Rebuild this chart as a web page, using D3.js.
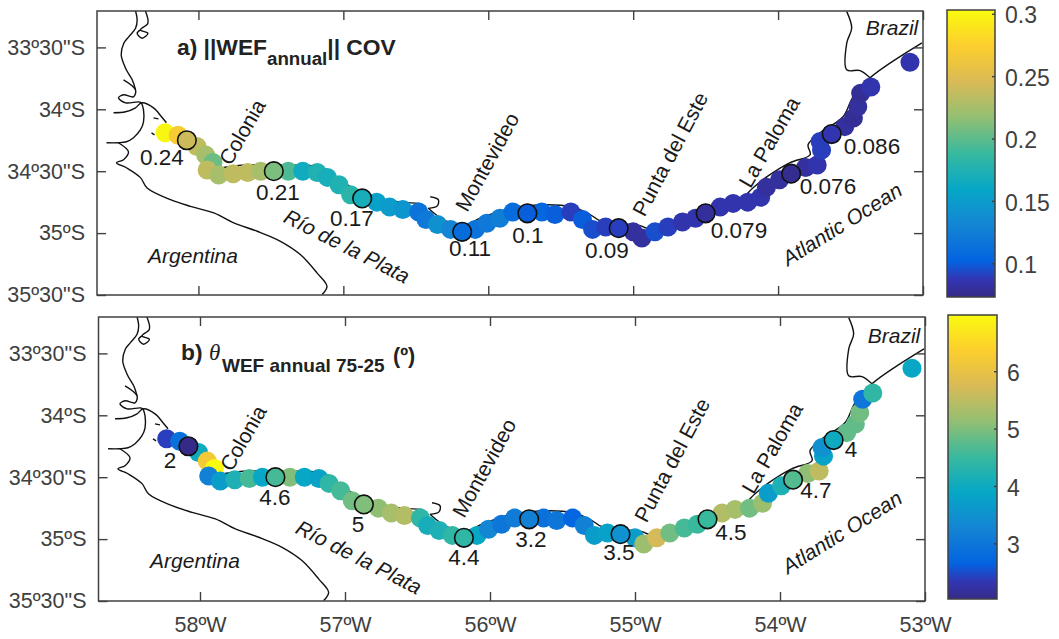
<!DOCTYPE html>
<html>
<head>
<meta charset="utf-8">
<script src="https://cdnjs.cloudflare.com/ajax/libs/d3/7.8.5/d3.min.js"></script>
<style>
  body { margin: 0; background: #fff; }
  svg { display: block; font-family: "Liberation Sans", Arial, sans-serif; }
</style>
</head>
<body>
<svg id="chart" width="1059" height="639"></svg>
<script>
// stations along the coast, same for both panels
var stationLon = [-58.23,-58.14,-58.08,-58.01,-57.95,-57.90,-57.94,-57.86,-57.76,-57.66,-57.57,-57.48,-57.38,-57.28,-57.18,-57.11,
  -57.03,-56.95,-56.87,-56.77,-56.68,-56.59,-56.48,-56.43,-56.35,-56.26,-56.18,-56.09,-56.01,-55.92,-55.83,-55.73,
  -55.63,-55.54,-55.43,-55.35,-55.28,-55.19,-55.10,-55.00,-54.94,-54.85,-54.76,-54.66,-54.57,-54.50,-54.40,-54.31,
  -54.21,-54.12,-54.08,-53.99,-53.91,-53.81,-53.73,-53.70,-53.71,-53.63,-53.54,-53.48,-53.45,-53.43,-53.36,-53.09];
var stationLat = [-34.19,-34.21,-34.25,-34.30,-34.37,-34.43,-34.49,-34.53,-34.52,-34.51,-34.50,-34.50,-34.50,-34.50,-34.51,-34.55,
  -34.61,-34.69,-34.72,-34.75,-34.79,-34.81,-34.83,-34.89,-34.93,-34.97,-34.99,-34.97,-34.92,-34.88,-34.83,-34.84,
  -34.83,-34.85,-34.83,-34.89,-34.97,-34.95,-34.96,-34.99,-35.04,-34.99,-34.95,-34.91,-34.88,-34.84,-34.79,-34.76,
  -34.75,-34.71,-34.63,-34.57,-34.52,-34.47,-34.45,-34.33,-34.26,-34.20,-34.14,-34.07,-33.98,-33.87,-33.82,-33.62];

var covValues = [0.30,0.27,0.24,0.235,0.225,0.205,0.235,0.225,0.235,0.235,0.225,0.21,0.195,0.165,0.175,0.17,
  0.175,0.18,0.17,0.155,0.15,0.145,0.115,0.12,0.14,0.13,0.11,0.115,0.12,0.125,0.11,0.10,
  0.105,0.10,0.09,0.10,0.095,0.09,0.09,0.08,0.08,0.095,0.09,0.085,0.085,0.079,0.085,0.085,
  0.085,0.085,0.08,0.08,0.076,0.08,0.085,0.09,0.09,0.086,0.08,0.078,0.08,0.078,0.085,0.085];
var thetaValues = [2.4,2.9,2.0,4.0,6.2,7.0,3.2,3.7,4.2,4.6,3.9,4.6,5.0,3.9,3.8,4.4,
  4.6,4.9,5.0,5.1,5.3,5.4,4.4,4.1,4.2,4.4,4.4,3.9,3.3,3.0,3.1,3.2,
  2.9,3.0,2.7,3.2,3.7,3.8,3.5,3.7,5.2,5.7,4.9,4.6,4.5,4.5,5.4,5.3,
  4.9,5.2,3.7,4.2,4.7,5.1,5.5,3.8,3.5,4.0,4.8,4.8,4.9,3.0,4.4,3.9];

var markedStations = [2,11,18,26,31,38,45,52,57];
var covMarkLabels = ["0.24","0.21","0.17","0.11","0.1","0.09","0.079","0.076","0.086"];
var thetaMarkLabels = ["2","4.6","5","4.4","3.2","3.5","4.5","4.7","4"];

var lonTicks = [-58,-57,-56,-55,-54,-53];
var lonLabels = ["58ºW","57ºW","56ºW","55ºW","54ºW","53ºW"];
var latTicks = [-33.5,-34,-34.5,-35,-35.5];
var latLabels = ['33º30"S','34ºS','34º30"S','35ºS','35º30"S'];

var covBarTicks = [0.1,0.15,0.2,0.25,0.3];
var covBarLabels = ["0.1","0.15","0.2","0.25","0.3"];
var thetaBarTicks = [3,4,5,6];
var thetaBarLabels = ["3","4","5","6"];

var parula = ["#352a87","#3236b4","#0363e1","#0c74d9","#1485d4","#0d96cd","#06a7c6","#1eb0b4","#38b99e",
  "#64bc88","#92bf73","#b6bd64","#d9ba56","#ebc440","#fcce2e","#fbe41e","#f9fb0e"];

// coast lines as [lon, lat]
var riverWest = [[-58.434,-33.206],[-58.423,-33.278],[-58.434,-33.345],[-58.48,-33.413],[-58.515,-33.466],[-58.533,-33.56],[-58.503,-33.668],[-58.457,-33.762],[-58.434,-33.843]];
var riverEast = [[-58.366,-33.206],[-58.349,-33.305],[-58.40,-33.359],[-58.349,-33.386],[-58.389,-33.426],[-58.423,-33.386],[-58.40,-33.359]];
var deltaTop = [[-58.517,-33.762],[-58.434,-33.843],[-58.448,-33.899],[-58.517,-33.883],[-58.552,-33.907],[-58.503,-33.948],[-58.414,-33.94],[-58.393,-33.948]];
var deltaShore = [[-58.586,-34.028],[-58.503,-34.02],[-58.434,-33.988],[-58.393,-33.948],[-58.31,-33.988],[-58.255,-34.06],[-58.221,-34.109]];
var deltaInner = [[-58.393,-33.948],[-58.379,-34.004],[-58.379,-34.101],[-58.40,-34.165],[-58.448,-34.23],[-58.497,-34.262],[-58.552,-34.27],[-58.634,-34.27]];
var islandA = [[-58.31,-34.069],[-58.276,-34.077]];
var islandB = [[-58.324,-34.19],[-58.303,-34.206]];
var argentinaCoast = [[-58.552,-34.27],[-58.483,-34.343],[-58.517,-34.407],[-58.566,-34.431],[-58.497,-34.472],[-58.40,-34.552],[-58.354,-34.636],[-58.193,-34.73],[-58.055,-34.784],[-57.894,-34.837],[-57.756,-34.918],[-57.595,-34.985],[-57.434,-35.066],[-57.297,-35.173],[-57.182,-35.321],[-57.113,-35.429],[-57.147,-35.496]];
var uruguayWest = [[-57.828,-34.47],[-57.676,-34.45],[-57.559,-34.45],[-57.366,-34.45],[-57.145,-34.47],[-57.021,-34.57],[-56.841,-34.70],[-56.676,-34.74],[-56.469,-34.76]];
var montevideoHook = [[-56.40,-34.706],[-56.345,-34.73],[-56.352,-34.78],[-56.414,-34.80]];
var uruguayEast = [[-56.414,-34.80],[-56.297,-34.90],[-56.159,-34.93],[-56.055,-34.88],[-55.917,-34.82],[-55.745,-34.78],[-55.434,-34.785],[-55.297,-34.85],[-55.228,-34.90],[-54.952,-34.94],[-54.903,-34.96],[-54.538,-34.86],[-54.262,-34.73],[-54.172,-34.633],[-54.076,-34.544],[-53.917,-34.431],[-53.779,-34.367],[-53.793,-34.286],[-53.71,-34.19],[-53.552,-34.06],[-53.483,-33.899],[-53.366,-33.746],[-53.007,-33.464]];
var brazilBorder = [[-53.526,-33.211],[-53.492,-33.343],[-53.526,-33.464],[-53.526,-33.681],[-53.434,-33.687],[-53.366,-33.746]];
var coastLines = [riverWest, riverEast, deltaTop, deltaShore, deltaInner, islandA, islandB, argentinaCoast, uruguayWest, montevideoHook, uruguayEast, brazilBorder];

var svg = d3.select("#chart");
var inkColor = "#404040";

// label placement, pixels
var markLabelPosA = [[162,165],[278,200],[352,226],[470,256],[528,243],[607,258],[739,238],[828,194],[872,154]];
var markLabelPosB = [[170,468],[275,505],[358,532],[464,565],[531,547],[619,560],[731,540],[816,498],[851,457]];
var placesA = [
  {name:"Colonia", x:242, y:132, a:-60}, {name:"Montevideo", x:487, y:162, a:-61}, {name:"Punta del Este", x:670, y:154, a:-62},
  {name:"La Paloma", x:769, y:142, a:-60}, {name:"Atlantic Ocean", x:842, y:224, a:-32, it:1}, {name:"Río de la Plata", x:347, y:246, a:27, it:1},
  {name:"Argentina", x:193, y:255, a:0, it:1}, {name:"Brazil", x:892, y:27, a:0, it:1}];
var placesB = [
  {name:"Colonia", x:243, y:438, a:-60}, {name:"Montevideo", x:484, y:468, a:-61}, {name:"Punta del Este", x:672, y:460, a:-62},
  {name:"La Paloma", x:772, y:448, a:-60}, {name:"Atlantic Ocean", x:842, y:532, a:-32, it:1}, {name:"Río de la Plata", x:359, y:557, a:27, it:1},
  {name:"Argentina", x:195, y:560, a:0, it:1}, {name:"Brazil", x:894, y:335, a:0, it:1}];

var draw_panel = function (opts) {
  var xScale = d3.scaleLinear().domain([-58.70, -53.0]).range([opts.left, opts.right]);
  var yScale = d3.scaleLinear().domain([-35.5, -33.206]).range([opts.bottom, opts.top]);
  var color = d3.scaleSequential(d3.piecewise(d3.interpolateRgb, parula)).domain(opts.barDomain).clamp(true);
  var g = svg.append("g");

  var line = d3.line()
    .x(function (d) { return xScale(d[0]) })
    .y(function (d) { return yScale(d[1]) })
    .curve(d3.curveCatmullRom.alpha(0.5));
  g.selectAll("path.coast")
    .data(coastLines)
    .enter()
    .append("path")
    .attr("class", "coast")
    .attr("d", line)
    .attr("fill", "none")
    .attr("stroke", "#111")
    .attr("stroke-width", 1.4)
    .attr("stroke-linejoin", "round");

  var stations = d3.range(stationLon.length);
  g.selectAll("circle.station")
    .data(stations)
    .enter()
    .append("circle")
    .attr("class", "station")
    .attr("cx", function (i) { return xScale(stationLon[i]) })
    .attr("cy", function (i) { return yScale(stationLat[i]) })
    .attr("r", 9.5)
    .attr("fill", function (i) { return color(opts.values[i]) });

  g.selectAll("circle.marked")
    .data(markedStations)
    .enter()
    .append("circle")
    .attr("class", "marked")
    .attr("cx", function (i) { return xScale(stationLon[i]) })
    .attr("cy", function (i) { return yScale(stationLat[i]) })
    .attr("r", 9.3)
    .attr("fill", function (i) { return color(opts.values[i]) })
    .attr("stroke", "#111")
    .attr("stroke-width", 1.6);

  // value next to each marked station
  g.selectAll("text.mark")
    .data(opts.markLabels)
    .enter()
    .append("text")
    .attr("class", "mark")
    .attr("x", function (d, i) { return opts.markPos[i][0] })
    .attr("y", function (d, i) { return opts.markPos[i][1] })
    .attr("text-anchor", "middle")
    .attr("font-size", 22.5)
    .attr("fill", "#1a1a1a")
    .text(function (d) { return d });

  g.selectAll("text.place")
    .data(opts.places)
    .enter()
    .append("text")
    .attr("class", "place")
    .attr("transform", function (d) { return "translate(" + d.x + "," + d.y + ") rotate(" + d.a + ")" })
    .attr("text-anchor", "middle")
    .attr("dominant-baseline", "central")
    .attr("font-size", 21)
    .attr("font-style", function (d) { return d.it ? "italic" : "normal" })
    .attr("fill", "#1a1a1a")
    .text(function (d) { return d.name });

  // box with inward ticks on all four sides
  var axisStyle = function (sel) {
    sel.select(".domain").remove();
    sel.selectAll(".tick line").attr("stroke", inkColor).attr("stroke-width", 1.4);
    sel.selectAll(".tick text").attr("fill", "#404040").attr("font-size", 21.5).attr("font-family", '"Liberation Sans", Arial, sans-serif');
  };
  var bottomAxis = d3.axisBottom(xScale).tickValues(lonTicks).tickSize(-9).tickPadding(opts.showLon ? 16 : 0)
    .tickFormat(function (d, i) { return opts.showLon ? lonLabels[i] : "" });
  g.append("g").attr("transform", "translate(0," + opts.bottom + ")").call(bottomAxis).call(axisStyle);
  var topAxis = d3.axisTop(xScale).tickValues(lonTicks).tickSize(-9).tickFormat("");
  g.append("g").attr("transform", "translate(0," + opts.top + ")").call(topAxis).call(axisStyle);
  var leftAxis = d3.axisLeft(yScale).tickValues(latTicks).tickSize(-9).tickPadding(12)
    .tickFormat(function (d, i) { return latLabels[i] });
  g.append("g").attr("transform", "translate(" + opts.left + ",0)").call(leftAxis).call(axisStyle);
  var rightAxis = d3.axisRight(yScale).tickValues(latTicks).tickSize(-9).tickFormat("");
  g.append("g").attr("transform", "translate(" + opts.right + ",0)").call(rightAxis).call(axisStyle);

  g.append("rect")
    .attr("x", opts.left)
    .attr("y", opts.top)
    .attr("width", opts.right - opts.left)
    .attr("height", opts.bottom - opts.top)
    .attr("fill", "none")
    .attr("stroke", inkColor)
    .attr("stroke-width", 1.5);

  draw_colorbar(opts, color);
}

var draw_colorbar = function (opts, color) {
  var barScale = d3.scaleLinear().domain(opts.barDomain).range([opts.barBottom, opts.barTop]);
  var gradId = "grad-" + opts.id;
  var grad = svg.append("defs").append("linearGradient")
    .attr("id", gradId)
    .attr("x1", 0).attr("x2", 0).attr("y1", 1).attr("y2", 0);
  grad.selectAll("stop")
    .data(parula)
    .enter()
    .append("stop")
    .attr("offset", function (d, i) { return i / (parula.length - 1) })
    .attr("stop-color", function (d) { return d });

  var g = svg.append("g");
  g.append("rect")
    .attr("x", opts.barLeft)
    .attr("y", opts.barTop)
    .attr("width", opts.barRight - opts.barLeft)
    .attr("height", opts.barBottom - opts.barTop)
    .attr("fill", "url(#" + gradId + ")")
    .attr("stroke", inkColor)
    .attr("stroke-width", 1.5);

  var axis = d3.axisRight(barScale).tickValues(opts.barTicks).tickSize(-3).tickPadding(10)
    .tickFormat(function (d, i) { return opts.barLabels[i] });
  var ax = g.append("g").attr("transform", "translate(" + opts.barRight + ",0)").call(axis);
  ax.select(".domain").remove();
  ax.selectAll(".tick line").attr("stroke", inkColor).attr("stroke-width", 1.4);
  ax.selectAll(".tick text")
    .attr("fill", "#404040")
    .attr("font-size", 23)
    .attr("font-family", '"Liberation Sans", Arial, sans-serif')
    .attr("dy", "0.4em");
}

draw_panel({
  id: "a", left: 97, right: 923, top: 11, bottom: 295, showLon: false,
  values: covValues, markLabels: covMarkLabels, markPos: markLabelPosA, places: placesA,
  barDomain: [0.073, 0.303], barTicks: covBarTicks, barLabels: covBarLabels,
  barLeft: 947, barRight: 995, barTop: 10, barBottom: 297
});
draw_panel({
  id: "b", left: 98.5, right: 925, top: 317, bottom: 601, showLon: true,
  values: thetaValues, markLabels: thetaMarkLabels, markPos: markLabelPosB, places: placesB,
  barDomain: [2.03, 6.98], barTicks: thetaBarTicks, barLabels: thetaBarLabels,
  barLeft: 948, barRight: 997, barTop: 315, barBottom: 599
});

// panel titles
var titleA = svg.append("text").attr("x", 177).attr("y", 55).attr("font-weight", "bold").attr("font-size", 22.8).attr("fill", "#222");
titleA.append("tspan").text("a) ||WEF");
titleA.append("tspan").attr("font-size", 18.7).attr("dy", 10).text("annual");
titleA.append("tspan").attr("dy", -10).text("|| COV");

var titleB = svg.append("g").attr("font-weight", "bold").attr("fill", "#222");
titleB.append("text").attr("x", 181).attr("y", 360).attr("font-size", 22.8).text("b)");
titleB.append("text").attr("x", 209).attr("y", 360).attr("font-size", 23)
  .attr("font-family", '"Liberation Serif", serif').attr("font-style", "italic").attr("font-weight", "normal").text("θ");
titleB.append("text").attr("x", 222).attr("y", 372).attr("font-size", 19).text("WEF annual 75-25");
titleB.append("text").attr("x", 393).attr("y", 363).attr("font-size", 21.5).text("(º)");
</script>
</body>
</html>
